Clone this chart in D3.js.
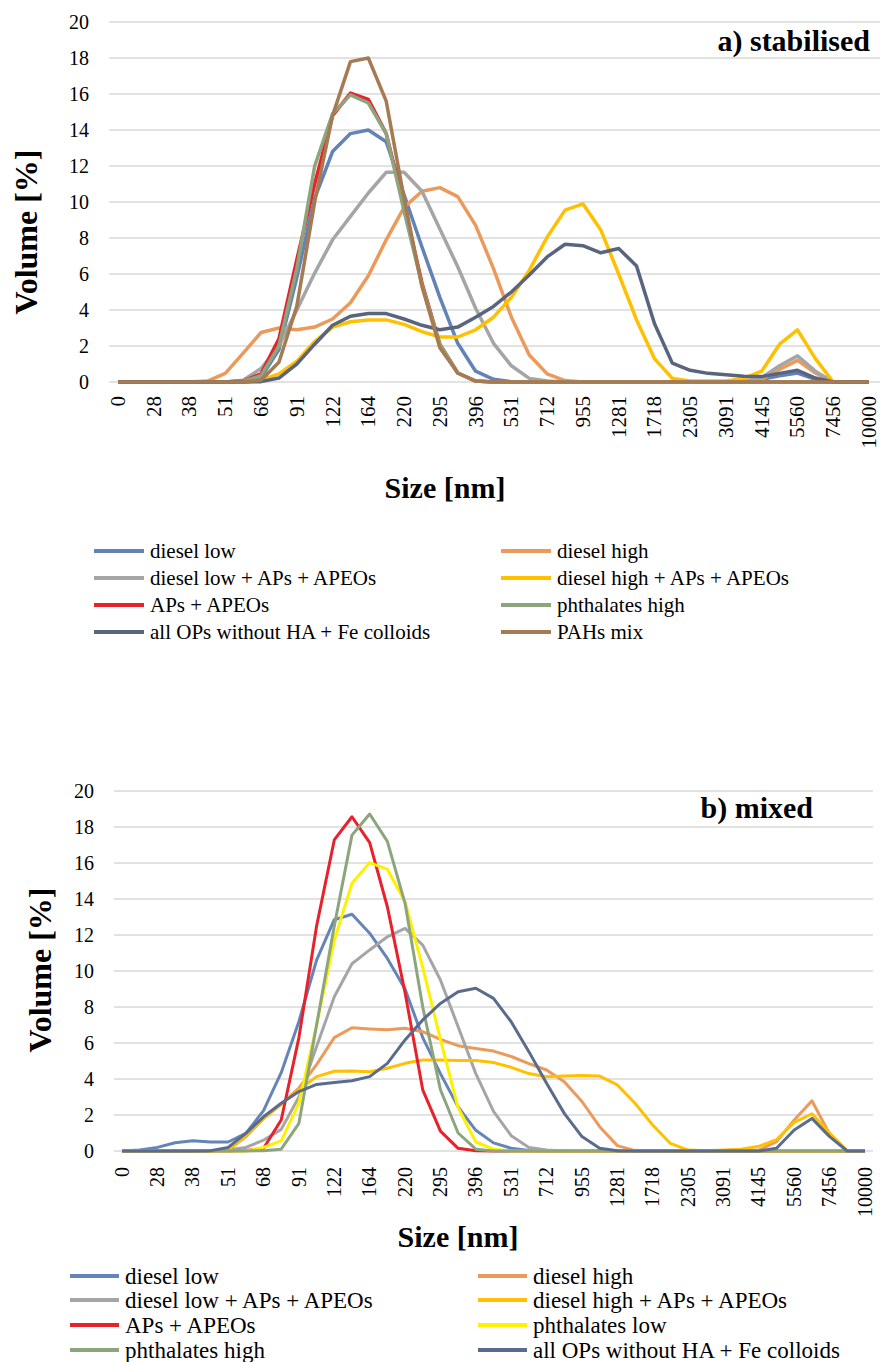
<!DOCTYPE html>
<html>
<head>
<meta charset="utf-8">
<script src="https://cdn.jsdelivr.net/npm/d3@7"></script>
</head>
<body style="margin:0">
<script>
// size classes [nm], every other one is labelled on the axis
var sizes = ["0", "24", "28", "33", "38", "44", "51", "59", "68", "79", "91", "106", "122", "142",
    "164", "190", "220", "255", "295", "342", "396", "459", "531", "615", "712", "825", "955",
    "1106", "1281", "1484", "1718", "1990", "2305", "2669", "3091", "3580", "4145", "4801",
    "5560", "6439", "7456", "8635", "10000"];
var volumeTicks = [0, 2, 4, 6, 8, 10, 12, 14, 16, 18, 20];

// a) stabilised
var namesA = ["diesel low", "diesel high", "diesel low + APs + APEOs", "diesel high + APs + APEOs",
    "APs + APEOs", "phthalates high", "all OPs without HA + Fe colloids", "PAHs mix"];
var stabDieselLow = [0, 0, 0, 0, 0, 0, 0, 0.05, 0.25, 1.8, 5.8, 10.2, 12.8, 13.8, 14.0, 13.35, 10.4, 7.5, 4.7, 2.15,
    0.6, 0.15, 0.02, 0, 0, 0, 0, 0, 0, 0, 0, 0, 0, 0, 0, 0, 0.15, 0.35, 0.5, 0.15, 0, 0, 0];
var stabDieselHigh = [0, 0, 0, 0, 0, 0.05, 0.48, 1.6, 2.75, 3.0, 2.9, 3.05, 3.5, 4.4, 5.9, 7.9, 9.7, 10.6, 10.8, 10.3,
    8.7, 6.3, 3.6, 1.5, 0.45, 0.08, 0, 0, 0, 0, 0, 0, 0, 0, 0, 0, 0.15, 0.7, 1.2, 0.5, 0, 0, 0];
var stabDieselLowAP = [0, 0, 0, 0, 0, 0, 0, 0.1, 0.75, 2.0, 4.0, 6.05, 7.9, 9.2, 10.5, 11.65, 11.65, 10.6, 8.5, 6.4,
    4.1, 2.15, 0.9, 0.2, 0.05, 0, 0, 0, 0, 0, 0, 0, 0, 0, 0, 0.05, 0.25, 0.9, 1.45, 0.6, 0, 0, 0];
var stabDieselHighAP = [0, 0, 0, 0, 0, 0, 0, 0, 0.1, 0.45, 1.15, 2.25, 3.05, 3.35, 3.45, 3.45, 3.2, 2.8, 2.5, 2.5,
    2.9, 3.6, 4.7, 6.2, 8.05, 9.55, 9.9, 8.45, 6.0, 3.45, 1.3, 0.2, 0.05, 0.05, 0.05, 0.2, 0.6, 2.1, 2.9, 1.3, 0, 0, 0];
var stabAPs = [0, 0, 0, 0, 0, 0, 0, 0.05, 0.45, 2.4, 6.8, 11.0, 14.8, 16.05, 15.7, 13.8, 9.8, 5.5, 2.1, 0.5,
    0.05, 0, 0, 0, 0, 0, 0, 0, 0, 0, 0, 0, 0, 0, 0, 0, 0, 0, 0, 0, 0, 0, 0];
var stabPhthHigh = [0, 0, 0, 0, 0, 0, 0, 0.05, 0.35, 2.0, 6.3, 12.0, 14.9, 15.95, 15.5, 13.8, 9.5, 5.4, 2.1, 0.5,
    0.05, 0, 0, 0, 0, 0, 0, 0, 0, 0, 0, 0, 0, 0, 0, 0, 0, 0, 0, 0, 0, 0, 0];
var stabAllOPs = [0, 0, 0, 0, 0, 0, 0, 0, 0.02, 0.22, 1.0, 2.1, 3.15, 3.65, 3.8, 3.8, 3.5, 3.15, 2.9, 3.05,
    3.6, 4.2, 5.0, 5.95, 6.95, 7.65, 7.57, 7.18, 7.42, 6.45, 3.25, 1.05, 0.65, 0.48, 0.4, 0.32, 0.3, 0.48, 0.65, 0.22, 0, 0, 0];
var stabPAHs = [0, 0, 0, 0, 0, 0, 0, 0, 0.1, 1.1, 4.2, 10.0, 14.8, 17.8, 18.0, 15.6, 10.2, 5.3, 1.9, 0.5,
    0.05, 0, 0, 0, 0, 0, 0, 0, 0, 0, 0, 0, 0, 0, 0, 0, 0, 0, 0, 0, 0, 0, 0];

// b) mixed
var namesB = ["diesel low", "diesel high", "diesel low + APs + APEOs", "diesel high + APs + APEOs",
    "APs + APEOs", "phthalates low", "phthalates high", "all OPs without HA + Fe colloids"];
var mixDieselLow = [0, 0.05, 0.2, 0.46, 0.57, 0.5, 0.5, 0.98, 2.24, 4.35, 7.2, 10.6, 12.85, 13.15, 12.1, 10.7, 9.0, 6.3, 4.3, 2.45,
    1.15, 0.45, 0.15, 0.03, 0, 0, 0, 0, 0, 0, 0, 0, 0, 0, 0, 0, 0, 0, 0, 0, 0, 0, 0];
var mixDieselHigh = [0, 0, 0, 0, 0, 0, 0.05, 0.8, 1.8, 2.6, 3.5, 4.8, 6.3, 6.85, 6.78, 6.73, 6.82, 6.63, 6.2, 5.85,
    5.7, 5.55, 5.25, 4.85, 4.5, 3.85, 2.75, 1.35, 0.3, 0.02, 0, 0, 0, 0, 0, 0, 0.05, 0.52, 1.72, 2.79, 0.94, 0, 0];
var mixDieselLowAP = [0, 0, 0, 0, 0, 0, 0.05, 0.2, 0.6, 1.2, 3.0, 5.8, 8.57, 10.4, 11.17, 11.9, 12.37, 11.44, 9.5, 6.9,
    4.3, 2.2, 0.85, 0.2, 0.05, 0, 0, 0, 0, 0, 0, 0, 0, 0, 0, 0, 0, 0, 0, 0, 0, 0, 0];
var mixDieselHighAP = [0, 0, 0, 0, 0, 0, 0.05, 0.85, 1.8, 2.6, 3.4, 4.13, 4.43, 4.45, 4.4, 4.6, 4.87, 5.06, 5.06, 5.03,
    5.03, 4.92, 4.65, 4.3, 4.13, 4.16, 4.2, 4.16, 3.67, 2.65, 1.44, 0.42, 0.05, 0.02, 0.05, 0.1, 0.26, 0.63, 1.59, 2.07, 1.0, 0, 0];
var mixAPs = [0, 0, 0, 0, 0, 0, 0, 0.03, 0.15, 1.72, 6.3, 12.5, 17.28, 18.57, 17.13, 13.57, 8.8, 3.4, 1.1, 0.15,
    0.02, 0, 0, 0, 0, 0, 0, 0, 0, 0, 0, 0, 0, 0, 0, 0, 0, 0, 0, 0, 0, 0, 0];
var mixPhthLow = [0, 0, 0, 0, 0, 0, 0, 0, 0.2, 0.56, 2.65, 7.0, 11.7, 14.87, 16.02, 15.65, 13.85, 10.2, 6.2, 2.4,
    0.5, 0.1, 0, 0, 0, 0, 0, 0, 0, 0, 0, 0, 0, 0, 0, 0, 0, 0, 0, 0, 0, 0, 0];
var mixPhthHigh = [0, 0, 0, 0, 0, 0, 0, 0, 0.02, 0.1, 1.54, 7.0, 12.5, 17.55, 18.72, 17.2, 13.76, 8.0, 3.4, 1.0,
    0.1, 0, 0, 0, 0, 0, 0, 0, 0, 0, 0, 0, 0, 0, 0, 0, 0, 0, 0, 0, 0, 0, 0];
var mixAllOPs = [0, 0, 0, 0, 0, 0.02, 0.2, 0.98, 1.9, 2.65, 3.3, 3.7, 3.8, 3.9, 4.13, 4.87, 6.17, 7.28, 8.2, 8.85,
    9.04, 8.48, 7.18, 5.52, 3.76, 2.09, 0.8, 0.15, 0.02, 0, 0, 0, 0, 0, 0, 0, 0, 0.15, 1.17, 1.81, 0.8, 0, 0];

var colorsA = ["#6282b8", "#ec9a5b", "#a5a5a5", "#ffc000", "#e8212b", "#8ca57c", "#59657f", "#a67b52"];
var colorsB = ["#6584b8", "#ec9a5b", "#a5a5a5", "#ffc000", "#e8212b", "#fff000", "#8ca57c", "#5a6b8c"];

var svg = d3.select("body").append("svg")
    .attr("width", 880).attr("height", 1362)
    .style("display", "block");

function addText(parent, size, bold) {
    var t = parent.append("text")
        .style("font-family", "'Times New Roman'")
        .style("font-size", size + "px")
        .style("fill", "#000");
    if (bold) t.style("font-weight", "bold");
    return t;
}

function drawPanel(p) {
    var x = d3.scalePoint().domain(sizes).range([p.x0, p.x1]);
    var y = d3.scaleLinear().domain([0, 20]).range([p.yBottom, p.yTop]);
    var g = svg.append("g");

    g.append("g").selectAll("line").data(volumeTicks).enter().append("line")
        .attr("x1", p.gx0).attr("x2", p.gx1)
        .attr("y1", function (d) { return y(d); })
        .attr("y2", function (d) { return y(d); })
        .style("stroke", "#d9d9d9").style("stroke-width", 1.5);

    volumeTicks.forEach(function (v) {
        addText(g, 20, false).attr("x", p.yLabelX).attr("y", y(v))
            .attr("text-anchor", "end").attr("dy", "0.35em").text(v);
    });

    sizes.forEach(function (s, i) {
        if (i % 2) return;
        addText(g, p.xFont, false)
            .attr("transform", "translate(" + x(s) + "," + p.xLabelY + ") rotate(-90)")
            .attr("text-anchor", "end").attr("dy", "0.33em").text(s);
    });

    var line = d3.line()
        .x(function (d, i) { return x(sizes[i]); })
        .y(function (d) { return y(d); });

    g.append("g").selectAll("path").data(p.series).enter().append("path")
        .attr("d", line)
        .style("fill", "none")
        .style("stroke", function (d, i) { return p.colors[i]; })
        .style("stroke-width", p.lineWidth)
        .style("stroke-linejoin", "round");

    addText(g, 30, true).attr("x", p.titleX).attr("y", p.titleY)
        .attr("text-anchor", "end").text(p.title);

    addText(g, p.volFont, true)
        .attr("transform", "translate(" + p.volX + "," + p.volY + ") rotate(-90)")
        .attr("text-anchor", "middle").attr("dy", "0.35em")
        .text("Volume [%]");

    addText(g, 30, true).attr("x", p.sizeX).attr("y", p.sizeY)
        .attr("text-anchor", "middle").attr("dy", "0.35em")
        .text("Size [nm]");

    p.names.forEach(function (name, i) {
        var lg = g.append("g").attr("transform",
            "translate(" + p.legCols[i % 2] + "," + p.legRows[Math.floor(i / 2)] + ")");
        lg.append("line").attr("x1", 0).attr("x2", p.legLine)
            .style("stroke", p.colors[i]).style("stroke-width", 4);
        addText(lg, p.legFont, false).attr("x", p.legLine + 6).attr("dy", "0.35em").text(name);
    });
}

drawPanel({
    x0: 118, x1: 869, yBottom: 382, yTop: 22, gx0: 109, gx1: 880,
    yLabelX: 89, xLabelY: 396, xFont: 21, lineWidth: 3.5,
    series: [stabDieselLow, stabDieselHigh, stabDieselLowAP, stabDieselHighAP, stabAPs, stabPhthHigh, stabAllOPs, stabPAHs],
    colors: colorsA, names: namesA,
    title: "a) stabilised", titleX: 870, titleY: 51,
    volX: 26, volY: 232, volFont: 32, sizeX: 445, sizeY: 487,
    legCols: [94, 501], legRows: [551, 578, 605, 632], legLine: 50, legFont: 21
});

drawPanel({
    x0: 122, x1: 865, yBottom: 1151, yTop: 791, gx0: 114, gx1: 873,
    yLabelX: 94, xLabelY: 1167, xFont: 20, lineWidth: 3,
    series: [mixDieselLow, mixDieselHigh, mixDieselLowAP, mixDieselHighAP, mixAPs, mixPhthLow, mixPhthHigh, mixAllOPs],
    colors: colorsB, names: namesB,
    title: "b) mixed", titleX: 813, titleY: 818,
    volX: 40, volY: 970, volFont: 32, sizeX: 458, sizeY: 1236,
    legCols: [70, 478], legRows: [1276, 1300, 1325, 1350], legLine: 49, legFont: 23
});
</script>
</body>
</html>
